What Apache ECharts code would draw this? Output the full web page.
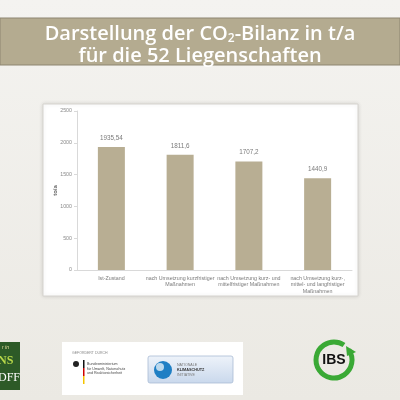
<!DOCTYPE html>
<html>
<head>
<meta charset="utf-8">
<script src="https://cdn.jsdelivr.net/npm/echarts@6/dist/echarts.min.js"></script>
<style>
  html, body { margin: 0; padding: 0; }
  #chart { width: 400px; height: 400px; }
</style>
</head>
<body>
<div id="chart"></div>
<script>
// values
const categories = [
  'Ist-Zustand',
  'nach Umsetzung kurzfristiger\nMaßnahmen',
  'nach Umsetzung kurz- und\nmittelfristiger Maßnahmen',
  'nach Umsetzung kurz-,\nmittel- und langfristiger\nMaßnahmen'
]
const co2Values = [1935.54, 1811.6, 1707.2, 1440.9]
const yTicks = [0, 500, 1000, 1500, 2000, 2500]

const barColor = '#b8ae93'
const bandColor = '#b4ab90'

const chart = echarts.init(document.getElementById('chart'))

chart.setOption({
  backgroundColor: new echarts.graphic.LinearGradient(0, 0, 0, 1, [
    { offset: 0, color: '#f4f3f0' },
    { offset: 1, color: '#ebe9e3' },
  ]),
  animation: false,
  title: {
    text: 'Darstellung der CO{sub|2}-Bilanz in t/a\nfür die 52 Liegenschaften',
    left: 'center',
    top: 18,
    textStyle: {
      color: '#ffffff',
      fontFamily: 'Open Sans',
      fontWeight: 600,
      fontSize: 20,
      lineHeight: 22,
      rich: {
        sub: { fontSize: 12, fontWeight: 600, color: '#ffffff', fontFamily: 'Open Sans', padding: [10, 0, 0, 0] },
      },
    },
  },
  graphic: [
    // title band
    { type: 'rect', z: -10, shape: { x: 0, y: 18, width: 400, height: 47 }, style: { fill: bandColor, stroke: '#8d8571', lineWidth: 1 } },
    // chart panel
    { type: 'rect', z: -10, shape: { x: 43, y: 104, width: 315, height: 192 }, style: { fill: '#ffffff', stroke: '#d6d4cf', lineWidth: 1, shadowBlur: 4, shadowColor: 'rgba(0,0,0,0.12)' } },
    // left logo (cut off)
    { type: 'rect', shape: { x: 0, y: 342, width: 20, height: 48 }, style: { fill: '#2d5a27' } },
    { type: 'text', style: { x: 2, y: 345, text: 'r in', fill: '#e8e0a0', fontSize: 5, fontStyle: 'italic' } },
    { type: 'text', style: { x: -2, y: 355, text: 'NS', fill: '#b8d84a', fontSize: 12, fontWeight: 'bold', fontFamily: 'Liberation Sans Narrow' } },
    { type: 'text', style: { x: -2, y: 372, text: 'DFF', fill: '#ffffff', fontSize: 12, fontFamily: 'Liberation Sans Narrow' } },
    // funding box
    { type: 'rect', shape: { x: 62, y: 342, width: 181, height: 53 }, style: { fill: '#ffffff' } },
    { type: 'text', style: { x: 72, y: 351, text: 'GEFÖRDERT DURCH', fill: '#888888', fontSize: 3.5 } },
    { type: 'circle', shape: { cx: 76, cy: 364, r: 3 }, style: { fill: '#222222' } },
    { type: 'rect', shape: { x: 83, y: 360, width: 1.5, height: 8 }, style: { fill: '#111111' } },
    { type: 'rect', shape: { x: 83, y: 368, width: 1.5, height: 8 }, style: { fill: '#d00000' } },
    { type: 'rect', shape: { x: 83, y: 376, width: 1.5, height: 8 }, style: { fill: '#f5c400' } },
    { type: 'text', style: { x: 87, y: 362, text: 'Bundesministerium\nfür Umwelt, Naturschutz\nund Reaktorsicherheit', fill: '#444444', fontSize: 3.6, lineHeight: 4.5 } },
    { type: 'rect', shape: { x: 148, y: 356, width: 85, height: 27, r: 2 }, style: { fill: new echarts.graphic.LinearGradient(0, 0, 0, 1, [{ offset: 0, color: '#eef3fa' }, { offset: 1, color: '#c9d8ec' }]), stroke: '#aabbd4', lineWidth: 0.8 } },
    { type: 'circle', shape: { cx: 163, cy: 370, r: 9 }, style: { fill: '#1f7fc4' } },
    { type: 'circle', shape: { cx: 160, cy: 367, r: 4 }, style: { fill: '#ffffff', opacity: 0.7 } },
    { type: 'text', style: { x: 177, y: 363, text: 'NATIONALE', fill: '#777777', fontSize: 3.6 } },
    { type: 'text', style: { x: 177, y: 368, text: 'KLIMASCHUTZ', fill: '#333333', fontSize: 3.8, fontWeight: 'bold' } },
    { type: 'text', style: { x: 177, y: 373, text: 'INITIATIVE', fill: '#777777', fontSize: 3.6 } },
    // IBS logo
    { type: 'arc', shape: { cx: 334, cy: 360, r: 18, startAngle: -0.6, endAngle: 5.3 }, style: { stroke: '#3aa935', lineWidth: 5, fill: null } },
    { type: 'polygon', shape: { points: [[346, 346], [356, 352], [347, 356]] }, style: { fill: '#3aa935' } },
    { type: 'text', style: { x: 334, y: 360, text: 'IBS', fill: '#111111', fontSize: 14, fontWeight: 'bold', fontFamily: 'Liberation Sans', align: 'center', verticalAlign: 'middle' } },
  ],
  grid: { left: 77, right: 48, top: 111, bottom: 130 },
  xAxis: {
    type: 'category',
    data: categories,
    axisLine: { lineStyle: { color: '#d9d9d9' } },
    axisTick: { show: false },
    axisLabel: {
      interval: 0,
      color: '#7a7a7a',
      fontSize: 5.3,
      lineHeight: 6.5,
      margin: 5,
      fontFamily: 'Liberation Sans',
    },
  },
  yAxis: {
    type: 'value',
    min: yTicks[0],
    max: yTicks[yTicks.length - 1],
    interval: 500,
    name: 'to/a',
    nameLocation: 'middle',
    nameRotate: 90,
    nameGap: 19,
    nameMoveOverlap: false,
    nameTextStyle: { color: '#666666', fontSize: 6, fontWeight: 'bold', fontFamily: 'Liberation Sans' },
    axisLine: { show: true, lineStyle: { color: '#d9d9d9' } },
    axisTick: { show: true, length: 3, lineStyle: { color: '#d9d9d9' } },
    splitLine: { show: false },
    axisLabel: { color: '#8a8a8a', fontSize: 5.3, margin: 5, fontFamily: 'Liberation Sans', formatter: (v) => String(v) },
  },
  series: [
    {
      type: 'bar',
      data: co2Values,
      barWidth: 27,
      itemStyle: { color: barColor },
      label: {
        show: true,
        position: 'top',
        distance: 6,
        color: '#7a7a7a',
        fontSize: 6.3,
        fontFamily: 'Liberation Sans',
        formatter: (p) => String(p.value).replace('.', ','),
      },
    },
  ],
})
</script>
</body>
</html>
